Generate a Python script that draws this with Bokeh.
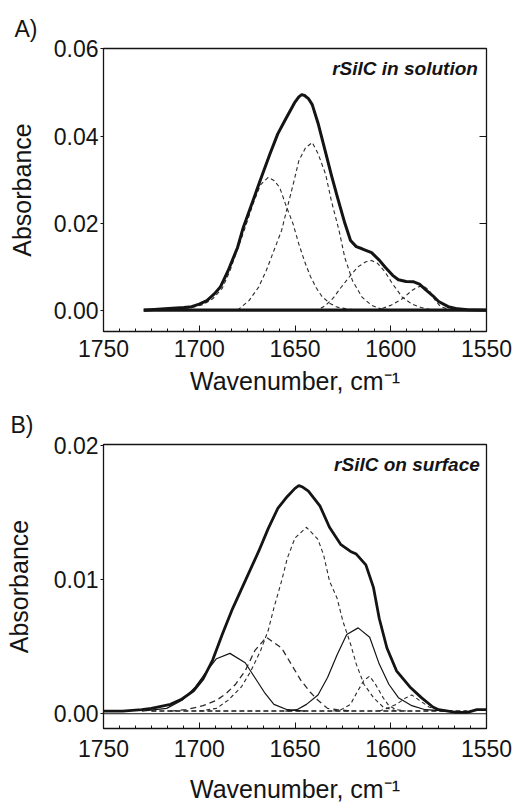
from bokeh.plotting import figure
from bokeh.models import (LinearAxis, FixedTicker, SingleIntervalTicker,
                          PrintfTickFormatter, Label, Range1d, Title)
from bokeh.layouts import column
from bokeh.embed import file_html
from bokeh.resources import INLINE

# ---------------- data ----------------
# Panel A: rSilC in solution
A_env_x = [1729, 1718, 1708, 1704, 1700, 1696, 1692, 1689, 1685, 1680,
           1677, 1672, 1668, 1663, 1659, 1655, 1652, 1650, 1648, 1646.5,
           1645, 1643, 1641, 1638, 1634, 1631, 1628, 1624, 1621, 1618,
           1615, 1610, 1606, 1603, 1599, 1596, 1592, 1588, 1585, 1582,
           1578, 1575, 1570, 1565, 1560, 1550]
A_env_y = [0.0, 0.0003, 0.0006, 0.0008, 0.0014, 0.0022, 0.0038, 0.0053, 0.0090, 0.0144,
           0.0190, 0.0251, 0.0300, 0.0360, 0.0405, 0.0438, 0.0462, 0.0478, 0.0490, 0.0495,
           0.0493, 0.0486, 0.0472, 0.0430, 0.0362, 0.0310, 0.0262, 0.0200, 0.0160, 0.0146,
           0.0141, 0.0132, 0.0115, 0.0099, 0.0080, 0.0070, 0.0066, 0.0065, 0.0060, 0.0048,
           0.0033, 0.0020, 0.0008, 0.0003, 0.0001, 0.0]
A_g1_x = [1722, 1712, 1704, 1698, 1693, 1688, 1684, 1680, 1676, 1672, 1668, 1664, 1661,
          1658, 1655, 1651, 1648, 1645, 1642, 1639, 1636, 1632, 1628, 1622, 1615]
A_g1_y = [0.0, 0.0002, 0.0006, 0.0013, 0.0026, 0.0050, 0.0090, 0.0140, 0.0190, 0.0243,
          0.0288, 0.0305, 0.0298, 0.0282, 0.0244, 0.0198, 0.0152, 0.0112, 0.0078, 0.0052,
          0.0032, 0.0016, 0.0007, 0.0002, 0.0]
A_g2_x = [1680, 1674, 1669, 1665, 1661, 1657, 1654, 1650.5, 1648, 1644.5, 1641, 1638,
          1634, 1631, 1627, 1624, 1620, 1615, 1610, 1605, 1598]
A_g2_y = [0.0, 0.0022, 0.0053, 0.0091, 0.0137, 0.0183, 0.0236, 0.0297, 0.0343, 0.0373,
          0.0385, 0.0360, 0.0312, 0.0251, 0.0183, 0.0121, 0.0068, 0.0030, 0.0011, 0.0003, 0.0]
A_g3_x = [1640, 1637, 1634, 1630, 1626, 1621, 1617, 1613, 1610, 1607, 1603, 1599, 1594,
          1589, 1584, 1578]
A_g3_y = [0.0, 0.0003, 0.0011, 0.0028, 0.0052, 0.0080, 0.0100, 0.0111, 0.0114, 0.0108,
          0.0088, 0.0060, 0.0030, 0.0014, 0.0006, 0.0]
A_g4_x = [1608, 1605, 1600, 1594, 1589, 1586, 1583, 1580, 1577, 1574, 1570, 1565]
A_g4_y = [0.0, 0.0003, 0.0011, 0.0026, 0.0045, 0.0053, 0.0056, 0.0046, 0.0024, 0.0008,
          0.0002, 0.0]
A_base_x = [1729, 1550]
A_base_y = [0.0, 0.0]

# Panel B: rSilC on surface
B_env_x = [1750, 1740, 1730, 1725, 1715, 1709, 1703, 1698, 1693, 1688,
           1683, 1676, 1669, 1664, 1659, 1654, 1650, 1648, 1646, 1643,
           1637, 1632, 1626, 1621, 1618, 1613, 1609, 1606, 1602, 1597,
           1590, 1584, 1578, 1575, 1566, 1560, 1555, 1550]
B_env_y = [0.0002, 0.0002, 0.0003, 0.0004, 0.0007, 0.0011, 0.0017, 0.0026, 0.0040, 0.0059,
           0.0077, 0.0099, 0.0121, 0.0138, 0.0153, 0.0162, 0.0168, 0.0170, 0.0169, 0.0166,
           0.0155, 0.0139, 0.0126, 0.0121, 0.0119, 0.0111, 0.0094, 0.0071, 0.0049, 0.0032,
           0.0020, 0.0012, 0.0005, 0.0003, 0.0001, 0.0001, 0.0003, 0.0003]
B_s1_x = [1730, 1717, 1709, 1702, 1697, 1691, 1684, 1676, 1671, 1666, 1661, 1654, 1645]
B_s1_y = [0.0002, 0.0004, 0.0010, 0.0020, 0.0030, 0.0041, 0.0045, 0.0038, 0.0027, 0.0016,
          0.0007, 0.0003, 0.0002]
B_s2_x = [1655, 1649, 1644, 1638, 1633, 1628, 1623, 1617, 1611, 1606, 1601, 1596, 1589,
          1582, 1570]
B_s2_y = [0.0002, 0.0003, 0.0007, 0.0014, 0.0027, 0.0044, 0.0059, 0.0064, 0.0057, 0.0037,
          0.0022, 0.0012, 0.0006, 0.0003, 0.0002]
B_d1_x = [1700, 1691, 1685, 1678, 1673, 1668, 1664, 1661, 1657, 1654, 1650, 1644, 1638,
          1635, 1632, 1628, 1625, 1621, 1618, 1614, 1609, 1604, 1597]
B_d1_y = [0.0002, 0.0004, 0.0010, 0.0020, 0.0032, 0.0047, 0.0062, 0.0079, 0.0099, 0.0116,
          0.0131, 0.0139, 0.0130, 0.0118, 0.0099, 0.0086, 0.0069, 0.0052, 0.0037, 0.0022,
          0.0012, 0.0005, 0.0002]
B_d2_x = [1715, 1707, 1698, 1691, 1686, 1681, 1676, 1671, 1665, 1657, 1652, 1647, 1642,
          1638, 1633, 1628, 1620]
B_d2_y = [0.0002, 0.0003, 0.0006, 0.0010, 0.0015, 0.0022, 0.0032, 0.0047, 0.0057, 0.0049,
          0.0037, 0.0025, 0.0016, 0.0010, 0.0004, 0.0003, 0.0002]
B_d3_x = [1630, 1626, 1621, 1618, 1614, 1611, 1608, 1604, 1601, 1597, 1592]
B_d3_y = [0.0002, 0.0003, 0.0007, 0.0015, 0.0025, 0.0028, 0.0022, 0.0012, 0.0006, 0.0003,
          0.0002]
B_d4_x = [1606, 1602, 1597, 1592, 1589, 1585, 1580, 1575, 1570]
B_d4_y = [0.0002, 0.0004, 0.0007, 0.0012, 0.0014, 0.0010, 0.0005, 0.0003, 0.0002]
B_base_x = [1725, 1560]
B_base_y = [0.0002, 0.0002]
B_zero_x = [1750, 1550]
B_zero_y = [0.0, 0.0]

A_Y_TICKS = [0.0, 0.02, 0.04, 0.06]
B_Y_TICKS = [0.0, 0.01, 0.02]

FONT = "Liberation Sans"
INK = "#141414"
DASH_INK = "#2a2a2a"


def base_fig(height, bl, br, bt, bb, yr, yticks, xt_standoff, xl_standoff, yl_standoff):
    p = figure(width=522, height=height, x_range=Range1d(1750, 1550),
               y_range=Range1d(*yr), output_backend="svg", toolbar_location=None,
               min_border_left=bl, min_border_right=br, min_border_top=bt,
               min_border_bottom=bb)
    p.grid.visible = False
    p.outline_line_color = INK
    p.outline_line_width = 1.3
    p.outline_line_alpha = 1.0
    p.background_fill_color = "white"
    p.border_fill_color = "white"

    xa = p.xaxis[0]
    xa.ticker = SingleIntervalTicker(interval=50, num_minor_ticks=6)
    xa.major_tick_in = 6
    xa.major_tick_out = 0
    xa.minor_tick_in = 3
    xa.minor_tick_out = 0
    xa.major_tick_line_color = INK
    xa.minor_tick_line_color = INK
    xa.axis_line_color = INK
    xa.major_label_standoff = xt_standoff
    xa.major_label_text_font = FONT
    xa.major_label_text_font_size = "23px"
    xa.major_label_text_color = INK
    xa.axis_label = "Wavenumber, cm\u207b\u00b9"
    xa.axis_label_text_font = FONT
    xa.axis_label_text_font_style = "normal"
    xa.axis_label_text_font_size = "25px"
    xa.axis_label_text_color = INK
    xa.axis_label_standoff = xl_standoff

    ya = p.yaxis[0]
    ya.ticker = FixedTicker(ticks=yticks)
    ya.formatter = PrintfTickFormatter(format="%.2f")
    ya.major_tick_in = 0
    ya.major_tick_out = 3
    ya.minor_tick_line_color = None
    ya.major_tick_line_color = INK
    ya.axis_line_color = INK
    ya.major_label_standoff = 2
    ya.major_label_text_font = FONT
    ya.major_label_text_font_size = "23px"
    ya.major_label_text_color = INK
    ya.axis_label = "Absorbance"
    ya.axis_label_text_font = FONT
    ya.axis_label_text_font_style = "normal"
    ya.axis_label_text_font_size = "25px"
    ya.axis_label_text_color = INK
    ya.axis_label_standoff = yl_standoff
    return p


# ---------------- panel A ----------------
pA = base_fig(402, 99, 36, 48, 71, (-0.0049, 0.0601), A_Y_TICKS, 8, 7, 15)
pA.title = Title(text="A)", align="left", offset=-89, standoff=13,
                 text_font=FONT, text_font_size="23px", text_font_style="normal",
                 text_color=INK)
ra = LinearAxis(ticker=FixedTicker(ticks=[0.02, 0.04]), major_tick_in=7, major_tick_out=0,
                minor_tick_line_color=None, axis_line_color=None,
                major_tick_line_color=INK, major_label_text_font_size="0px",
                major_label_standoff=0,
                major_label_overrides={0.02: "", 0.04: ""})
pA.add_layout(ra, "right")

for xs, ys in [(A_g1_x, A_g1_y), (A_g2_x, A_g2_y), (A_g3_x, A_g3_y), (A_g4_x, A_g4_y)]:
    pA.line(xs, ys, line_color=DASH_INK, line_width=1.1, line_dash="4 3")
pA.line(A_base_x, A_base_y, line_color=INK, line_width=3.2)
pA.line(A_env_x, A_env_y, line_color=INK, line_width=3.0, line_join="round")

pA.add_layout(Label(x=1554.5, y=0.0554, text="rSilC in solution", text_align="right",
                    text_baseline="middle", text_font=FONT, text_font_size="19px",
                    text_font_style="bold italic", text_color=INK))

# ---------------- panel B ----------------
pB = base_fig(406, 103, 31, 40, 80, (-0.0011, 0.02007), B_Y_TICKS, 11, 15, 18)
pB.title = Title(text="B)", align="left", offset=-93, standoff=14,
                 text_font=FONT, text_font_size="23px", text_font_style="normal",
                 text_color=INK)

pB.line(B_zero_x, B_zero_y, line_color=INK, line_width=1.0)
pB.line(B_base_x, B_base_y, line_color=INK, line_width=1.6, line_dash="5 3")
for xs, ys in [(B_d1_x, B_d1_y), (B_d3_x, B_d3_y), (B_d4_x, B_d4_y)]:
    pB.line(xs, ys, line_color=DASH_INK, line_width=1.1, line_dash="4 3")
pB.line(B_d2_x, B_d2_y, line_color=DASH_INK, line_width=1.3, line_dash="6 4")
for xs, ys in [(B_s1_x, B_s1_y), (B_s2_x, B_s2_y)]:
    pB.line(xs, ys, line_color=INK, line_width=1.2, line_join="round")
pB.line(B_env_x, B_env_y, line_color=INK, line_width=2.8, line_join="round")

pB.add_layout(Label(x=1553.5, y=0.01857, text="rSilC on surface", text_align="right",
                    text_baseline="middle", text_font=FONT, text_font_size="19px",
                    text_font_style="bold italic", text_color=INK))

layout = column(pA, pB, spacing=0)
open("out.html", "w").write(file_html(layout, INLINE))
